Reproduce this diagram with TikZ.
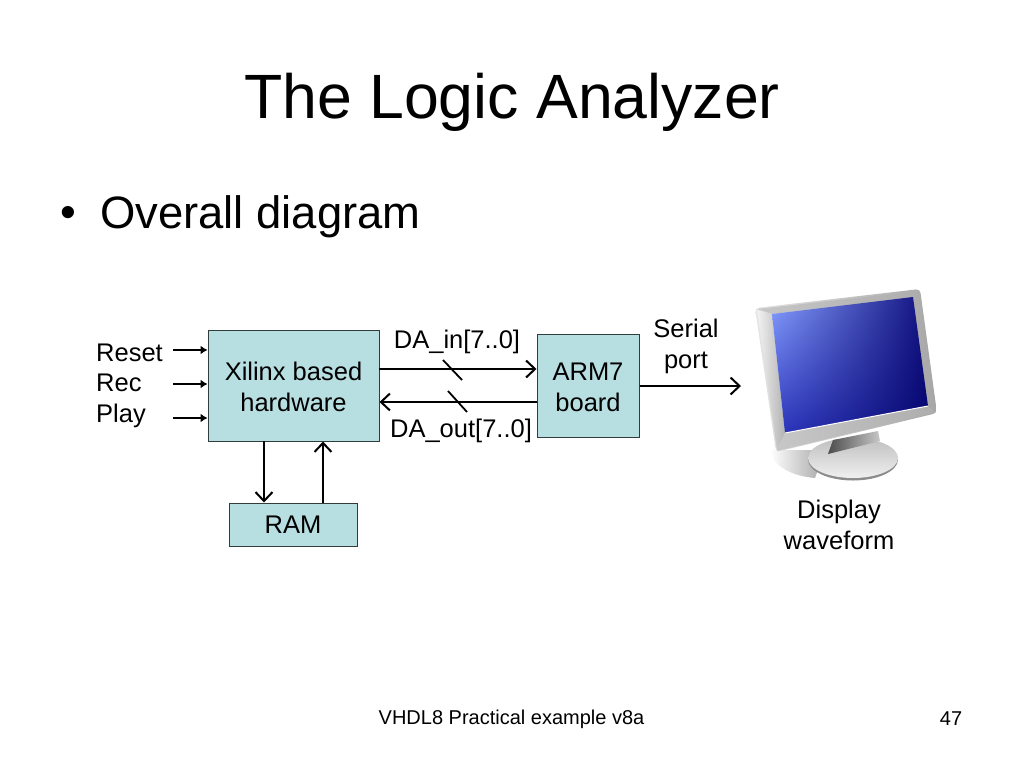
\documentclass[tikz,border=0pt]{standalone}
\usepackage{fontspec}
\setmainfont{Liberation Sans}
\usetikzlibrary{arrows.meta,shadings}
\definecolor{boxfill}{RGB}{183,222,224}
\definecolor{boxline}{RGB}{50,60,60}
\definecolor{scrUL}{RGB}{135,160,255}
\definecolor{scrUR}{RGB}{15,15,125}
\definecolor{scrLR}{RGB}{5,5,110}
\definecolor{scrLL}{RGB}{45,55,190}
\tikzset{
  block/.style={draw=boxline,fill=boxfill,line width=1pt,align=center,inner sep=0pt,font=\fontsize{25.5}{31}\selectfont},
  label/.style={inner sep=0pt,align=center,font=\fontsize{25.5}{31}\selectfont},
  wire/.style={line width=2.2pt,-{Straight Barb[length=9pt,width=17pt,line width=2pt]}},
  ctrl/.style={line width=2.2pt,-{Latex[length=7pt,width=9pt]}},
  slash/.style={line width=1.8pt}
}
\begin{document}
\begin{tikzpicture}[x=1pt,y=-1pt]
  \useasboundingbox (0,0) rectangle (1024,768);
  % headings
  \node[inner sep=0pt,font=\fontsize{62.6}{70}\selectfont] (title) at (512,102) {The Logic Analyzer};
  \node[inner sep=0pt,font=\fontsize{45}{50}\selectfont] (dot) at (68,217) {•};
  \node[inner sep=0pt,anchor=west,font=\fontsize{45.4}{50}\selectfont] (sub) at (100,217) {Overall diagram};
  \node[inner sep=0pt,font=\fontsize{20}{24}\selectfont] (foot) at (511.5,719) {VHDL8 Practical example v8a};
  \node[inner sep=0pt,font=\fontsize{20}{24}\selectfont] (page) at (951,719) {47};
  % monitor
  \begin{scope}
    \shade[left color=white,right color=black!35] (770,450) .. controls (772,465) and (790,476) .. (815,478) -- (825,450) -- cycle;
    \fill[black!45] (853,459.5) ellipse (45 and 21);
    \shade[top color=black!25,bottom color=black!6] (853,458) ellipse (45 and 20);
    \shade[left color=black!70,right color=black!22] (833,440) -- (878,431) -- (880,441) -- (828,454) -- cycle;
    \shade[left color=black!10,right color=black!35,rounded corners=4pt] (755,308) -- (920,289) -- (937,413) -- (776,452) -- cycle;
    \shade[left color=black!5,right color=black!30] (757,310) -- (772,314) -- (785,433) -- (777,450) -- cycle;
    \shade[left color=black!22,right color=black!32] (772,314) -- (913,297) -- (919,291) -- (757,309) -- cycle;
    \shade[left color=black!22,right color=black!32] (785,433) -- (928,406) -- (936,412) -- (777,451) -- cycle;
    \shade[upper left=scrUL,upper right=scrUR,lower right=scrLR,lower left=scrLL]
      (772,314) -- (913,297) -- (928,406) -- (785,433) -- cycle;
    \draw[white,line width=1pt] (785,433) -- (928,406);
  \end{scope}
  % blocks
  \node[block,minimum width=171pt,minimum height=111pt] (xilinx) at (293.5,385.5) {\rule{0pt}{21.5pt}Xilinx based\\hardware};
  \node[block,minimum width=128pt,minimum height=43pt] (ram) at (293,524.5) {RAM};
  \node[block,minimum width=102pt,minimum height=103pt] (arm) at (588,385.5) {\rule{0pt}{21.5pt}ARM7\\board};
  % labels
  \node[label,anchor=base west] (reset) at (96,361) {Reset};
  \node[label,anchor=base west] (rec) at (96,391.5) {Rec};
  \node[label,anchor=base west] (play) at (96,422) {Play};
  \node[label] (dain) at (457,341.5) {DA\_in[7..0]};
  \node[label] (daout) at (461,431) {DA\_out[7..0]};
  \node[label] (serial) at (686,346.5) {Serial\\port};
  \node[label] (display) at (839,525) {Display\\waveform};
  % free ends
  \coordinate (c0) at (173,350);
  \coordinate (c1) at (173,384);
  \coordinate (c2) at (173,418);
  \coordinate (c3) at (741,386);
  \coordinate (s0) at (443,360);
  \coordinate (s1) at (462,380);
  \coordinate (s2) at (448,391);
  \coordinate (s3) at (467,412);
  \coordinate (c4) at (379,369);
  \coordinate (c5) at (537,402);
  \coordinate (c6) at (264,441);
  \coordinate (c7) at (323,503);
  % connectors
  \begin{scope}
    \draw[ctrl] (c0) to (c0 -| xilinx.west);
    \draw[ctrl] (c1) to (c1 -| xilinx.west);
    \draw[ctrl] (c2) to (c2 -| xilinx.west);
    \draw[wire] (c4) to (c4 -| arm.west);
    \draw[wire] (c5) to (c5 -| xilinx.east);
    \draw[wire] (c6) to (c6 |- ram.north);
    \draw[wire] (c7) to (c7 |- xilinx.south);
    \draw[wire] (c3 -| arm.east) to (c3);
    \draw[slash] (s0) to (s1);
    \draw[slash] (s2) to (s3);
  \end{scope}
\end{tikzpicture}
\end{document}
